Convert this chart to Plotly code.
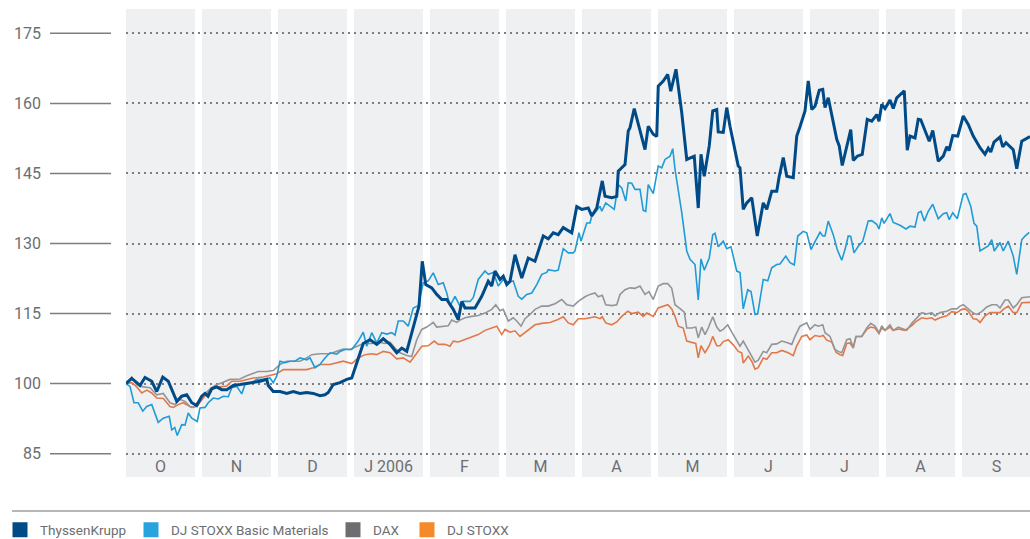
import plotly.graph_objects as go

# ---------------- data ----------------
MONTHS = ["O", "N", "D", "J 2006", "F", "M", "A", "M", "J", "J", "A", "S"]
Y_TICKS = [85, 100, 115, 130, 145, 160, 175]
DAYS_PER_MONTH = 30.4          # idealised equal-length months (Oct 2005 - Sep 2006)
SERIES_NAMES = ["ThyssenKrupp", "DJ STOXX Basic Materials", "DAX", "DJ STOXX"]

# ThyssenKrupp (indexed, day offset from 30 Sep 2005)
tk_day = [0, 2.3, 4.3, 5.6, 7.6, 10.3, 12.3, 14.7, 16.9, 18.7, 20.3, 22.3, 24.3, 26.3, 28.3,
          30.3, 31.6, 32.8, 34.3, 36.3, 38.3, 40.3, 42.9, 45.6, 48.3, 50.9, 53.6, 56.3, 56.9,
          58.9, 61.6, 64.3, 66.9, 69.6, 72.3, 74.9, 77.6, 79.6, 80.9, 82.9, 85.6, 88.3, 90.3,
          92.3, 94.9, 97.6, 100.3, 102.9, 105.6, 108.3, 110.3, 112.3, 114.3, 117.2, 118.5,
          119.9, 122.3, 124.3, 126.3, 128.3, 130.9, 132.9, 134.3, 135.6, 139.6, 142.3, 144.9,
          146.3, 147.6, 149.6, 150.9, 152.3, 153.6, 155.6, 158.3, 160.9, 163.6, 166.9, 168.9,
          170.9, 172.9, 174.9, 178.3, 180.3, 182.3, 184.9, 186.3, 188.3, 190.5, 191.6, 194.3,
          196.3, 196.9, 199.6, 200.9, 201.6, 203.3, 205.6, 207.6, 208.9, 210.9, 212.3, 212.9,
          214.9, 216.7, 217.9, 220.0, 222.3, 224.3, 227.3, 228.9, 230.0, 231.3, 233.3, 234.7,
          236.3, 236.9, 238.9, 240.3, 241.6, 244.9, 245.6, 246.9, 248.3, 250.3, 252.5, 254.9,
          256.3, 258.3, 260.3, 261.2, 262.9, 264.3, 266.9, 268.3, 269.6, 271.6, 272.9, 274.3,
          275.6, 277.3, 278.7, 279.6, 280.9, 284.3, 285.3, 286.5, 289.9, 290.9, 292.5, 294.5,
          296.5, 298.3, 300.3, 301.2, 302.3, 303.6, 305.6, 306.9, 308.3, 311.3, 312.5, 313.6,
          315.6, 316.9, 317.9, 319.6, 321.3, 322.7, 324.9, 326.9, 328.3, 329.2, 330.7, 332.7,
          334.9, 336.9, 338.9, 341.6, 343.6, 344.9, 345.9, 347.2, 349.6, 350.7, 352.0, 354.9,
          356.3, 358.3, 360.0, 361.6]
tk_val = [100, 101.1, 100.2, 99.6, 101.3, 100.5, 98.3, 101.4, 100.5, 98.0, 96.2, 97.3, 97.6, 95.9, 95.3,
          97.3, 97.9, 97.3, 98.9, 99.3, 98.7, 98.7, 99.6, 99.8, 100.0, 100.2, 100.5, 100.9, 99.6,
          98.3, 98.3, 97.9, 98.3, 97.9, 98.1, 97.9, 97.4, 97.6, 98.1, 99.8, 100.2, 100.9, 101.2,
          104.4, 108.6, 109.4, 108.4, 109.6, 108.4, 106.6, 107.6, 106.9, 110.9, 116.6, 126.2,
          121.2, 120.5, 119.1, 118.0, 118.0, 115.9, 113.7, 117.6, 116.2, 116.2, 118.7, 121.9,
          120.9, 124.1, 122.3, 123.0, 121.2, 121.9, 127.6, 122.6, 126.9, 126.2, 131.6, 131.0,
          132.3, 131.9, 133.4, 132.3, 137.9, 137.3, 137.6, 135.9, 137.6, 143.4, 140.1, 139.8,
          140.1, 145.5, 146.9, 154.1, 154.8, 158.9, 154.4, 150.1, 155.1, 153.4, 152.9, 163.7,
          164.8, 166.2, 162.6, 167.3, 158.0, 148.0, 148.7, 137.6, 149.1, 144.4, 150.9, 158.4,
          158.7, 153.9, 153.8, 159.1, 155.1, 146.6, 146.2, 137.3, 138.7, 139.8, 131.6, 138.7,
          137.3, 141.2, 141.2, 144.1, 148.4, 144.4, 144.1, 153.0, 155.0, 158.4, 164.8, 158.7,
          159.4, 162.8, 163.0, 159.1, 161.2, 152.3, 150.9, 146.7, 154.4, 147.8, 148.7, 149.1,
          156.6, 156.2, 157.6, 156.2, 159.8, 158.9, 160.7, 158.9, 161.2, 162.7, 150.0, 153.0,
          152.6, 156.6, 156.5, 154.1, 151.9, 154.2, 147.6, 148.7, 150.7, 149.9, 153.1, 153.0,
          157.3, 155.5, 153.0, 150.5, 149.1, 150.4, 149.6, 151.7, 152.8, 150.7, 151.6, 150.1,
          146.0, 151.9, 152.5, 152.9]

# DJ STOXX Basic Materials
bm_day = [0, 1.6, 3.2, 4.9, 6.7, 8.3, 10.3, 12.9, 14.9, 17.3, 18.3, 19.5, 20.5, 22.3, 23.6, 24.9,
          26.3, 28.5, 29.6, 31.6, 32.9, 34.9, 36.9, 38.9, 40.9, 42.3, 44.3, 46.3, 47.6, 50.3, 52.3,
          54.9, 57.6, 58.9, 60.3, 61.6, 63.6, 65.6, 67.6, 69.6, 72.3, 73.6, 75.6, 77.6, 79.6, 81.6,
          84.3, 85.6, 87.6, 89.6, 90.3, 92.9, 94.9, 96.3, 98.3, 100.3, 102.3, 104.3, 106.3, 107.6,
          108.9, 110.9, 112.9, 114.9, 116.9, 118.9, 120.9, 122.9, 124.9, 126.9, 128.3, 129.6,
          131.6, 133.6, 134.9, 137.6, 138.9, 140.9, 143.6, 144.9, 146.9, 148.9, 150.9, 152.9,
          154.9, 156.9, 158.3, 160.3, 162.3, 164.3, 166.3, 168.3, 168.9, 171.6, 172.9, 174.9,
          176.9, 178.9, 179.6, 181.2, 182.0, 184.3, 185.6, 186.3, 187.6, 189.6, 190.3, 191.9,
          193.6, 195.3, 196.9, 198.3, 199.9, 200.9, 202.3, 203.6, 205.6, 206.9, 207.9, 208.9,
          210.9, 212.9, 214.3, 215.6, 217.6, 218.7, 219.6, 222.3, 224.3, 225.6, 227.6, 228.9,
          230.0, 231.3, 233.3, 234.7, 235.6, 236.9, 238.9, 240.3, 242.0, 244.3, 245.6, 246.9,
          248.7, 250.0, 251.6, 252.7, 254.9, 256.7, 258.3, 260.3, 261.6, 263.9, 265.6, 267.3,
          268.7, 270.9, 272.3, 274.0, 275.6, 277.6, 278.7, 279.6, 280.9, 282.9, 284.5, 286.3,
          287.6, 288.9, 289.9, 291.2, 292.9, 294.7, 296.9, 298.3, 300.3, 301.2, 302.3, 303.2,
          305.6, 306.9, 309.6, 312.0, 313.6, 315.6, 316.9, 318.0, 319.3, 320.9, 322.7, 324.9,
          326.9, 328.3, 329.3, 330.7, 332.5, 334.9, 336.0, 337.9, 339.2, 340.3, 341.6, 343.6,
          344.9, 346.3, 347.3, 349.6, 350.9, 352.9, 354.9, 356.3, 358.3, 359.6, 361.3]
bm_val = [100, 99.4, 95.9, 95.9, 94.1, 95.1, 95.5, 91.7, 92.6, 93.0, 90.1, 90.6, 88.9, 91.2, 91.1, 93.7,
          92.6, 91.9, 94.8, 94.9, 95.9, 96.9, 96.7, 97.3, 97.2, 99.1, 99.4, 97.8, 99.8, 100.2, 100.9,
          100.9, 101.2, 100.2, 101.6, 104.8, 104.5, 104.8, 104.8, 105.5, 105.1, 105.5, 103.4, 104.1,
          105.5, 106.6, 106.3, 106.9, 107.3, 107.4, 107.3, 109.1, 111.0, 108.0, 110.9, 108.7, 110.9,
          110.6, 110.9, 110.4, 113.4, 113.4, 112.3, 116.2, 116.7, 121.6, 122.0, 123.7, 121.2, 121.6,
          119.4, 116.6, 118.7, 116.6, 117.6, 117.6, 118.4, 122.3, 124.1, 123.4, 123.8, 120.9, 122.3,
          121.7, 122.0, 118.7, 118.1, 119.1, 119.4, 121.2, 123.4, 123.8, 124.4, 124.1, 124.3, 128.9,
          128.0, 128.0, 128.4, 132.3, 130.5, 134.4, 134.4, 135.9, 136.6, 138.0, 136.9, 138.7, 138.0,
          137.3, 142.6, 141.9, 139.1, 143.0, 142.9, 141.6, 141.6, 137.1, 136.9, 142.6, 140.7, 146.6,
          146.2, 148.0, 148.7, 150.3, 145.9, 136.6, 128.4, 126.6, 125.5, 117.9, 126.7, 124.3, 126.9,
          131.9, 132.2, 129.3, 130.5, 128.9, 129.3, 124.1, 123.8, 116.0, 120.1, 119.7, 114.8, 115.0,
          122.3, 122.0, 124.8, 125.5, 125.6, 127.3, 125.9, 125.4, 131.6, 132.6, 132.3, 128.7, 130.4,
          132.4, 131.6, 131.6, 134.8, 131.9, 128.7, 126.4, 128.7, 131.6, 131.5, 128.0, 129.4, 130.5,
          134.8, 134.9, 134.1, 133.1, 135.5, 134.3, 136.4, 134.5, 133.9, 133.1, 133.7, 133.5, 136.6,
          136.9, 134.8, 136.9, 138.4, 135.3, 136.4, 136.6, 135.1, 136.6, 135.3, 140.5, 140.7, 138.0,
          134.3, 133.7, 128.4, 129.1, 129.5, 130.8, 128.4, 130.2, 128.4, 130.5, 127.3, 123.4, 130.8,
          131.6, 132.4]

# DAX
dax_day = [0, 2.3, 4.3, 6.9, 9.6, 12.3, 14.9, 17.6, 19.6, 21.6, 23.6, 25.6, 26.9, 30.8, 33.6, 35.6,
           38.4, 41.6, 45.6, 48.3, 52.9, 56.3, 58.9, 61.6, 64.3, 66.9, 69.6, 71.6, 74.3, 77.6, 81.6,
           84.3, 86.9, 89.6, 92.3, 94.9, 98.3, 100.9, 103.6, 105.6, 107.6, 109.6, 112.3, 114.3,
           116.3, 118.3, 120.3, 122.9, 124.3, 126.3, 128.9, 130.3, 132.3, 133.6, 135.6, 138.3,
           140.9, 143.6, 146.3, 147.9, 149.6, 150.9, 152.9, 154.9, 156.3, 158.0, 159.6, 161.6,
           163.6, 166.3, 168.9, 171.6, 174.3, 176.3, 178.9, 180.9, 183.6, 185.6, 187.6, 188.9,
           190.5, 191.9, 194.3, 196.3, 197.6, 199.6, 201.6, 203.6, 205.6, 207.6, 209.2, 210.9,
           212.9, 214.9, 216.7, 218.3, 219.6, 222.0, 223.3, 224.3, 226.3, 227.9, 228.9, 230.3,
           231.6, 232.9, 234.7, 236.3, 237.6, 238.9, 240.7, 242.3, 244.3, 245.6, 246.9, 248.9,
           250.3, 251.6, 252.9, 254.9, 256.3, 258.3, 260.3, 262.3, 264.3, 266.3, 267.6, 269.6,
           272.3, 273.6, 275.6, 276.9, 278.7, 279.6, 281.6, 283.6, 284.9, 286.3, 288.3, 289.6,
           290.9, 292.0, 294.3, 296.3, 297.9, 299.6, 301.2, 302.3, 303.6, 305.6, 306.9, 308.9,
           310.9, 312.3, 314.3, 316.3, 318.3, 320.3, 322.3, 323.6, 325.6, 328.3, 330.3, 332.3,
           333.6, 334.9, 336.9, 338.9, 340.3, 342.3, 344.3, 346.3, 348.3, 349.6, 351.6, 352.9,
           354.9, 356.3, 358.3, 360.3, 361.6]
dax_val = [100, 101.4, 99.8, 99.3, 99.1, 97.6, 97.9, 95.9, 95.5, 96.6, 96.2, 95.1, 94.9, 97.5, 98.8,
           99.6, 100.2, 100.9, 101.0, 101.7, 102.6, 102.6, 102.8, 104.1, 104.8, 104.8, 104.8, 105.3,
           106.2, 106.4, 106.4, 106.9, 107.4, 107.3, 108.0, 108.6, 108.6, 108.9, 108.6, 108.9, 107.6,
           106.6, 106.0, 105.8, 109.4, 111.6, 112.1, 113.1, 112.1, 112.3, 112.4, 113.6, 113.1, 113.6,
           114.1, 114.4, 114.6, 115.1, 115.9, 116.9, 115.6, 115.9, 113.4, 114.1, 113.4, 112.3, 113.9,
           114.8, 115.9, 116.6, 116.6, 117.1, 118.0, 116.9, 116.6, 117.6, 118.6, 119.1, 119.4, 118.6,
           118.9, 116.9, 116.7, 116.9, 119.1, 120.1, 120.5, 120.4, 120.9, 119.1, 119.7, 118.0, 120.9,
           121.4, 121.4, 120.4, 116.9, 115.9, 115.3, 111.9, 111.9, 112.1, 109.8, 112.1, 110.5, 111.9,
           114.3, 112.1, 111.2, 111.6, 112.6, 111.0, 109.1, 108.0, 109.1, 107.3, 105.9, 104.6, 105.0,
           106.9, 106.6, 108.4, 108.5, 109.1, 108.8, 108.4, 110.1, 112.3, 113.0, 111.6, 112.6, 112.3,
           112.6, 110.9, 110.1, 107.3, 106.9, 106.6, 109.4, 109.6, 107.8, 110.1, 110.1, 111.9, 112.9,
           112.3, 110.9, 112.4, 111.4, 112.6, 111.4, 112.1, 111.7, 111.4, 112.9, 114.1, 115.2, 114.9,
           115.2, 114.5, 115.2, 115.5, 116.0, 116.0, 116.6, 116.9, 116.0, 115.1, 114.8, 115.4, 116.4,
           116.9, 116.9, 116.2, 117.9, 117.9, 116.2, 116.9, 118.4, 118.6, 118.6]

# DJ STOXX
stoxx_day = [0, 2.3, 4.3, 6.3, 8.3, 10.3, 12.3, 14.9, 17.6, 18.9, 20.9, 22.9, 24.9, 26.3, 28.3, 31.6,
             33.6, 35.6, 37.6, 40.3, 42.3, 45.6, 48.3, 50.9, 54.9, 57.6, 60.3, 62.9, 65.6, 69.6, 72.3,
             74.9, 77.6, 81.6, 84.3, 86.9, 90.3, 92.9, 95.6, 98.3, 100.3, 102.9, 105.6, 108.3, 110.9,
             113.6, 114.9, 118.3, 120.9, 123.3, 124.9, 127.6, 129.6, 130.9, 132.9, 135.6, 138.3,
             140.9, 143.6, 146.3, 148.3, 150.3, 151.6, 153.6, 155.6, 157.6, 159.6, 161.6, 163.6,
             166.3, 169.6, 172.3, 174.9, 176.9, 178.9, 180.9, 183.6, 185.6, 187.6, 189.6, 190.5,
             191.9, 194.3, 196.3, 198.3, 200.7, 202.3, 204.9, 206.9, 208.3, 210.9, 212.9, 214.9,
             216.7, 218.3, 219.6, 220.9, 222.9, 224.3, 226.3, 227.9, 228.9, 230.0, 231.6, 233.3,
             234.7, 236.3, 237.6, 238.9, 240.9, 242.9, 244.9, 246.3, 246.9, 248.9, 250.3, 251.6,
             252.9, 254.9, 256.3, 258.3, 260.3, 262.3, 264.9, 266.9, 268.3, 270.3, 272.3, 273.6,
             275.6, 277.6, 278.9, 280.3, 282.3, 284.0, 285.6, 286.7, 288.3, 289.6, 290.9, 292.0,
             294.3, 296.3, 297.9, 299.6, 301.2, 302.3, 303.6, 305.6, 306.9, 308.9, 311.6, 314.3,
             316.3, 318.3, 320.3, 322.3, 323.6, 325.6, 328.3, 330.3, 332.3, 334.3, 335.6, 336.9,
             338.9, 340.3, 341.6, 343.6, 345.6, 347.6, 349.6, 350.9, 352.9, 354.9, 356.3, 358.3,
             360.3, 361.6]
stoxx_val = [100, 100.2, 99.3, 98.0, 98.6, 98.0, 96.9, 96.8, 95.1, 94.9, 95.5, 95.9, 95.3, 94.9, 95.1,
             97.5, 98.8, 99.3, 99.3, 99.5, 100.5, 100.5, 100.9, 101.2, 101.4, 101.7, 102.1, 103.0,
             103.0, 103.0, 103.0, 103.4, 104.1, 104.1, 104.5, 104.8, 104.3, 105.5, 106.2, 106.4,
             106.2, 106.9, 106.6, 105.3, 105.5, 104.6, 105.5, 108.0, 108.1, 109.1, 108.4, 108.4,
             108.0, 109.1, 108.9, 109.4, 110.0, 110.5, 111.4, 111.9, 112.3, 110.5, 111.6, 111.0,
             111.3, 110.1, 111.0, 111.9, 112.6, 112.9, 113.1, 113.6, 114.3, 113.0, 112.6, 113.9,
             113.9, 114.1, 114.3, 113.9, 114.3, 113.0, 112.6, 113.2, 114.4, 115.5, 115.0, 115.3,
             114.4, 115.1, 114.4, 116.2, 116.5, 116.9, 116.0, 114.4, 112.3, 111.9, 109.1, 108.8,
             108.6, 105.5, 108.1, 106.6, 108.1, 110.1, 108.1, 108.1, 109.0, 109.4, 108.3, 106.9,
             106.6, 104.4, 105.9, 104.8, 103.1, 103.4, 105.5, 105.2, 106.6, 106.6, 107.1, 106.6,
             106.0, 108.1, 110.1, 110.4, 109.4, 110.3, 110.1, 110.3, 109.3, 108.9, 106.7, 106.2,
             106.0, 108.6, 108.7, 107.6, 110.1, 110.1, 111.6, 112.1, 111.9, 110.7, 111.9, 111.4,
             112.1, 111.4, 111.7, 111.4, 112.4, 113.4, 114.1, 113.9, 114.1, 113.6, 114.1, 114.5,
             115.4, 115.2, 115.9, 116.0, 115.5, 113.9, 113.8, 113.1, 114.5, 115.2, 115.2, 115.2,
             115.9, 116.6, 115.2, 115.2, 117.3, 117.4, 117.4]

# ---------------- styling ----------------
FONT = "Roboto, 'Liberation Sans', sans-serif"
TEXT_COLOR = "#6d6e71"
BAND_COLOR = "#eff0f2"
LINE_COLORS = ["#004b87", "#1f9bd7", "#939598", "#e2784a"]
SWATCH_COLORS = ["#004a85", "#29a3dd", "#6d6e71", "#f48a2a"]
LINE_WIDTHS = [3, 1.6, 1.6, 1.6]

L, T, W, H = 126, 10, 1030, 539
PLOT_W = W - L
PLOT_H = 467
X_MAX = 361.6
BAND_FRAC = 69 / 76

fig = go.Figure()

series = [(tk_day, tk_val), (bm_day, bm_val), (dax_day, dax_val), (stoxx_day, stoxx_val)]
draw_order = [3, 2, 1, 0]
for k in draw_order:
    d, v = series[k]
    fig.add_trace(go.Scatter(x=d, y=v, mode="lines", name=SERIES_NAMES[k],
                             line=dict(color=LINE_COLORS[k], width=LINE_WIDTHS[k]),
                             showlegend=False, hoverinfo="skip"))

# legend swatches (one legend per entry so positions can match the original)
legend_left_px = [0, 131, 333, 407]
legend_names = ["legend", "legend2", "legend3", "legend4"]
for k in range(4):
    fig.add_trace(go.Scatter(x=[None], y=[None], mode="markers", name=SERIES_NAMES[k],
                             marker=dict(symbol="square", size=12, color=SWATCH_COLORS[k],
                                         line=dict(color=SWATCH_COLORS[k], width=3)),
                             legend=legend_names[k], showlegend=True))

layout_legends = {}
for k in range(4):
    layout_legends[legend_names[k]] = dict(
        xref="container", yref="container",
        x=legend_left_px[k] / W, xanchor="left",
        y=(H - 530) / H, yanchor="middle", orientation="h",
        bgcolor="rgba(0,0,0,0)", font=dict(family=FONT, size=13.5, color=TEXT_COLOR),
        itemclick=False, itemdoubleclick=False)

shapes = []
# month bands
for i in range(len(MONTHS)):
    x0 = i * DAYS_PER_MONTH
    shapes.append(dict(type="rect", xref="x", yref="paper", x0=x0, x1=x0 + BAND_FRAC * DAYS_PER_MONTH,
                       y0=0, y1=1.002, fillcolor=BAND_COLOR, line=dict(width=0), layer="below"))
# short solid tick marks next to the y labels
for v in Y_TICKS:
    shapes.append(dict(type="line", xref="paper", yref="y", x0=(50 - L) / PLOT_W, x1=(111 - L) / PLOT_W,
                       y0=v, y1=v, line=dict(color="#7d7e81", width=1.5)))
# separator line above the legend
sep_y = (T + PLOT_H - 511) / PLOT_H
shapes.append(dict(type="line", xref="paper", yref="paper", x0=(12 - L) / PLOT_W, x1=1,
                   y0=sep_y, y1=sep_y, line=dict(color="#b5b6b8", width=2)))

month_centers = [i * DAYS_PER_MONTH + BAND_FRAC * DAYS_PER_MONTH / 2 for i in range(len(MONTHS))]

fig.update_layout(
    width=W, height=H,
    margin=dict(l=L, r=0, t=T, b=H - T - PLOT_H, pad=0, autoexpand=False),
    paper_bgcolor="white", plot_bgcolor="white",
    font=dict(family=FONT, color=TEXT_COLOR),
    shapes=shapes,
    showlegend=True,
    **layout_legends,
    xaxis=dict(range=[0, X_MAX], showgrid=False, zeroline=False, showline=False,
               tickvals=month_centers, ticktext=MONTHS, ticks="",
               ticklabelposition="inside", ticklabelstandoff=-1,
               tickfont=dict(family=FONT, size=16, color=TEXT_COLOR), fixedrange=True),
    yaxis=dict(range=[80, 180], showgrid=True, gridcolor="#7d7e81", gridwidth=1.5,
               griddash="1.5px,4.5px", zeroline=False, showline=False,
               tickvals=Y_TICKS, ticktext=[str(v) for v in Y_TICKS], ticks="",
               ticklabelstandoff=84,
               tickfont=dict(family=FONT, size=16, color=TEXT_COLOR), fixedrange=True),
)

fig.write_html("out.html", post_script="document.body.style.margin='0';",
               config={"displayModeBar": False})
